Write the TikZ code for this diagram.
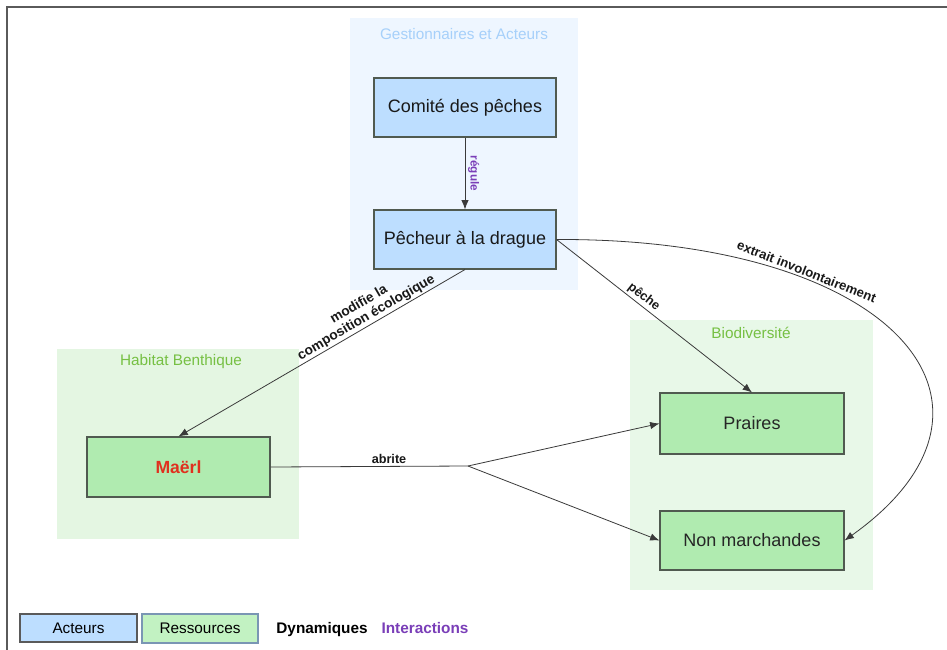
\documentclass[tikz,border=0pt]{standalone}
\usepackage{fontspec}
\setmainfont{Liberation Sans}
\usetikzlibrary{arrows.meta}
\definecolor{actfill}{HTML}{BDDEFF}
\definecolor{resfill}{HTML}{B0EBB0}
\definecolor{legres}{HTML}{C2F2C2}
\definecolor{legresb}{HTML}{7A96B4}
\definecolor{bluebg}{HTML}{EEF6FF}
\definecolor{greenbg}{HTML}{E4F6E2}
\definecolor{greenbg2}{HTML}{E8F8E8}
\definecolor{bluetitle}{HTML}{A6D0FA}
\definecolor{greentitle}{HTML}{76C043}
\definecolor{boxline}{HTML}{505A50}
\definecolor{edgec}{HTML}{3A3A3A}
\definecolor{purplec}{HTML}{7A3EB8}
\definecolor{maerlred}{HTML}{E0301E}
\definecolor{framec}{HTML}{5A5A5A}
\tikzset{
  actbox/.style={draw=boxline, line width=0.8pt, fill=actfill, minimum width=136.5pt, minimum height=44.25pt, inner sep=0pt, font=\fontsize{13.5}{16}\selectfont, text=black!90},
  resbox/.style={draw=boxline, line width=0.8pt, fill=resfill, minimum width=138pt, minimum height=45pt, inner sep=0pt, font=\fontsize{13.5}{16}\selectfont, text=black!85},
  grptitle/.style={font=\fontsize{11.5}{14}\selectfont, inner sep=0pt},
  edgelab/.style={font=\fontsize{9.5}{11}\selectfont\bfseries, inner sep=1.5pt, text=black!90},
  conn/.style={draw=edgec, line width=0.6pt},
  arr/.style={conn, -{Latex[length=7pt,width=5.5pt]}},
  legtxt/.style={font=\fontsize{11.5}{14}\selectfont, inner sep=0pt}
}
\begin{document}
\begin{tikzpicture}[x=0.75pt,y=-0.75pt]
\useasboundingbox (0,0) rectangle (947,650);
\fill[white] (0,0) rectangle (947,650);
\draw[framec, line width=1.3pt] (7,650) -- (7,7) -- (947,7);

% groups
\fill[bluebg] (350,18) rectangle (578,290);
\node[grptitle, text=bluetitle] (gtitle) at (464,34) {Gestionnaires et Acteurs};
\fill[greenbg] (57,349) rectangle (299,539);
\node[grptitle, text=greentitle] (htitle) at (181,362) {Habitat Benthique};
\fill[greenbg2] (630,320) rectangle (873,590);
\node[grptitle, text=greentitle] (btitle) at (751,333) {Biodiversité};

% nodes
\node[actbox] (comite) at (465,107.5) {Comité des pêches};
\node[actbox] (pech) at (465,239.5) {Pêcheur à la drague};
\node[resbox, minimum width=137.25pt, text=maerlred, font=\fontsize{13.2}{16}\selectfont\bfseries] (maerl) at (178.5,467) {Maërl};
\node[resbox, minimum height=45.75pt] (praires) at (752,423.5) {Praires};
\node[resbox, minimum height=44.25pt] (nm) at (752,540.5) {Non marchandes};
\coordinate (junc) at (468,466);

% connectors
\draw[arr] (comite) -- (pech) node[pos=0.5, rotate=-90, anchor=south, inner sep=2pt, font=\fontsize{8.8}{10}\selectfont\bfseries, text=purplec] (lreg) {régule};
\draw[arr] (pech.south) -- (maerl.north) node[pos=0.33, sloped, above, edgelab, font=\fontsize{10.2}{11}\selectfont\bfseries, align=center, inner sep=1pt] (lmod) {modifie la\\composition écologique};
\draw[arr] (pech.east) -- (praires.north) node[pos=0.42, sloped, above, edgelab] (lpec) {pêche};
\draw[arr] (pech.east) .. controls (895,238) and (1035,405) .. (nm.east) node[pos=0.3, sloped, above, edgelab, font=\fontsize{9.8}{11}\selectfont\bfseries] (lext) {extrait involontairement};
\draw[conn] (maerl.east) -- (junc) node[pos=0.6, above, edgelab] (labr) {abrite};
\draw[arr] (junc) -- (praires.west);
\draw[arr] (junc) -- (nm.west);

% legend
\node[draw=framec, line width=0.8pt, fill=actfill, minimum width=87.75pt, minimum height=21pt, inner sep=0pt, legtxt] (lact) at (78.5,628) {Acteurs};
\node[draw=legresb, line width=0.8pt, fill=legres, minimum width=87pt, minimum height=21.75pt, inner sep=0pt, legtxt] (lres) at (200,628.5) {Ressources};
\node[legtxt, anchor=base, font=\fontsize{11.5}{14}\selectfont\bfseries] (ldyn) at (322,633) {Dynamiques};
\node[legtxt, anchor=base, font=\fontsize{11.5}{14}\selectfont\bfseries, text=purplec] (lint) at (425,633) {Interactions};
\end{tikzpicture}
\end{document}
